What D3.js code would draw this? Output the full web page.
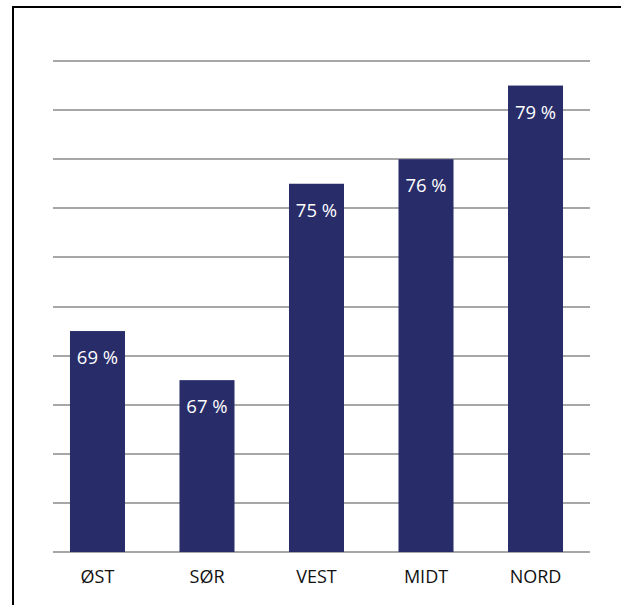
<!DOCTYPE html>
<html>
<head>
<meta charset="utf-8">
<script src="https://cdn.jsdelivr.net/npm/d3@7"></script>
<style>
  html, body { margin: 0; padding: 0; background: #fff; }
  svg { display: block; }
</style>
</head>
<body>
<svg id="chart" width="621" height="605"></svg>
<script>
// Regions and their share (percent)
const categories = ["ØST", "SØR", "VEST", "MIDT", "NORD"];
const values = [69, 67, 75, 76, 79];
// Horizontal grid lines every 2 points from 60 to 80
const gridTicks = [60, 62, 64, 66, 68, 70, 72, 74, 76, 78, 80];

const svg = d3.select("#chart");
const font = "'Open Sans', 'Noto Sans', sans-serif";

const x = d3.scaleBand()
  .domain(categories)
  .range([42.6, 590.4])
  .paddingInner(0.4977)
  .paddingOuter(0.25);

const y = d3.scaleLinear()
  .domain([60, 80])
  .range([552, 61]);

// Frame (top and left edges)
svg.append("path")
  .attr("d", "M13,605 L13,7 L621,7")
  .attr("fill", "none")
  .attr("stroke", "#000")
  .attr("stroke-width", 2);

// Grid lines
svg.append("g")
  .selectAll("line")
  .data(gridTicks)
  .join("line")
  .attr("x1", 53)
  .attr("x2", 590)
  .attr("y1", d => Math.round(y(d)))
  .attr("y2", d => Math.round(y(d)))
  .attr("stroke", "#8a8a8a")
  .attr("stroke-width", 1.6);

// Bars
svg.append("g")
  .selectAll("rect")
  .data(values)
  .join("rect")
  .attr("x", (d, i) => x(categories[i]))
  .attr("width", x.bandwidth())
  .attr("y", d => y(d))
  .attr("height", d => y(60) - y(d))
  .attr("fill", "#282c69");

// Value labels inside bars
svg.append("g")
  .selectAll("text")
  .data(values)
  .join("text")
  .attr("x", (d, i) => x(categories[i]) + x.bandwidth() / 2)
  .attr("y", d => y(d) + 33)
  .attr("text-anchor", "middle")
  .attr("fill", "#fff")
  .attr("font-family", font)
  .attr("font-size", 18.5)
  .text(d => d + " %");

// Category axis labels
const xAxis = svg.append("g")
  .attr("transform", "translate(0,552)")
  .call(d3.axisBottom(x).tickSize(0).tickPadding(0));
xAxis.select(".domain").remove();
xAxis.selectAll("text")
  .attr("y", 31)
  .attr("dy", null)
  .attr("fill", "#111")
  .attr("font-family", font)
  .attr("font-size", 18);
</script>
</body>
</html>
